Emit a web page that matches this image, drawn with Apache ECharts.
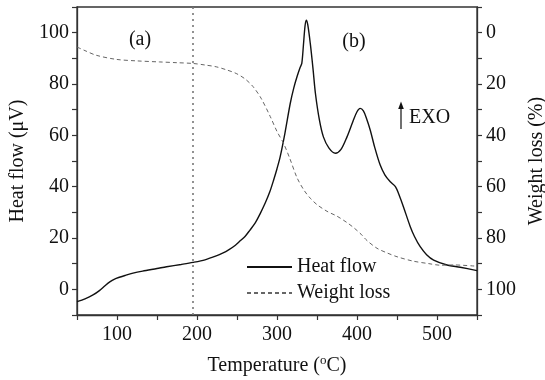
<!DOCTYPE html>
<html>
<head>
<meta charset="utf-8">
<script src="https://cdn.jsdelivr.net/npm/echarts@6/dist/echarts.min.js"></script>
<style>
html,body{margin:0;padding:0;background:#fff;}
#chart{width:545px;height:380px;}
</style>
</head>
<body>
<div id="chart"></div>
<script>
// Heat flow curve (Temperature °C, µV)
var heatT = [50,60,70,78,85,91,97,103,110,120,132,150,162,180,195,210,224,232,240,248,254,260,266,273,279,285.4,291,295.8,300,304,310,316.6,321,325,329,331,333,335,336.6,338.5,341.6,345,348,353,358,365,373,380,387.5,395,400,404,408,412,416.6,422,429,435,441.6,448,453,458,466.6,472,479,487,495.8,512.5,529,550];
var heatV = [-4.8,-3.7,-2.2,-0.5,1.4,2.9,4.0,4.7,5.4,6.3,7.1,8.1,8.8,9.7,10.5,11.5,13,14.1,15.5,17.2,18.9,20.6,23,26,29.5,33.7,38,42.6,47,51.7,61,72.5,78.5,82.8,86.5,88,95,102.5,104.9,103,95.8,86,76.4,66,59.4,55,53,54.5,59.4,65.5,69.2,70.5,69.5,66.5,62,55.5,48.4,44.5,41.9,40,36.5,32.2,24.4,20.5,16.6,13.5,11.4,9.5,8.6,7.3];
// Weight loss curve (Temperature °C, %)
var wlT = [50,60,74,99,125,153,175,195,210,224,237,249,260,270,280,291.6,300,308,316,325,334,341.6,350,362.5,375,387.5,396,405,412.5,425,437.5,450,470,490,504,521,550];
var wlV = [5.6,7.0,8.8,10.4,11.0,11.4,11.7,12,12.6,13.3,14.5,15.9,18.0,21,25.5,32.7,38.5,43,49,56.5,61.5,64.5,67,69.6,71.5,74,76,78.5,81,84,85.8,87.3,89,90,90.6,90.5,91];
var xTicks = [100,200,300,400,500];
var yTicks = [0,20,40,60,80,100];
var seriesNames = ['Heat flow','Weight loss'];
var dividerT = 195;

var FONT = 'Liberation Serif';
function zip(a,b){return a.map(function(v,i){return [v,b[i]];});}

var chart = echarts.init(document.getElementById('chart'));
var axisCommon = {
  axisLine:{show:true,onZero:false,lineStyle:{color:'#333',width:1.3}},
  axisTick:{show:true,inside:false,length:5,lineStyle:{color:'#333',width:1.2}},
  splitLine:{show:false},
  nameTextStyle:{fontFamily:FONT,fontSize:20,color:'#111'}
};
chart.setOption({
  animation:false,
  backgroundColor:'#fff',
  grid:{left:77,right:68,top:7,bottom:65,show:true,borderColor:'#333',borderWidth:1.3,backgroundColor:'transparent',
    containLabel:false,outerBoundsMode:'none'},
  legend:{
    orient:'vertical',left:241,top:252,itemWidth:45,itemHeight:12,itemGap:6,
    data:seriesNames,
    itemStyle:{opacity:0},
    textStyle:{fontFamily:FONT,fontSize:20,color:'#111'}
  },
  xAxis:Object.assign({},axisCommon,{
    type:'value',min:50,max:550,interval:50,
    name:'Temperature ({sup|o}C)',nameLocation:'middle',nameGap:39,
    nameTextStyle:{fontFamily:FONT,fontSize:20,color:'#111',rich:{sup:{fontFamily:FONT,fontSize:13,verticalAlign:'top',padding:[0,0,10,0],color:'#111'}}},
    axisLabel:{margin:10,fontFamily:FONT,fontSize:20,color:'#111',
      formatter:function(v){return xTicks.indexOf(v)>=0?String(v):'';}}
  }),
  yAxis:[
    Object.assign({},axisCommon,{
      type:'value',min:-10,max:110,interval:10,position:'left',
      name:'Heat flow (\u03BCV)',nameLocation:'middle',nameGap:41,nameRotate:90,
      axisLabel:{margin:8,fontFamily:FONT,fontSize:20,color:'#111',
        formatter:function(v){return yTicks.indexOf(v)>=0?String(v):'';}}
    }),
    Object.assign({},axisCommon,{
      type:'value',min:-10,max:110,interval:10,position:'right',inverse:true,
      name:'Weight loss (%)',nameLocation:'middle',nameGap:50,nameRotate:90,
      axisLabel:{margin:9,fontFamily:FONT,fontSize:20,color:'#111',
        formatter:function(v){return yTicks.indexOf(v)>=0?String(v):'';}}
    })
  ],
  series:[
    {name:seriesNames[0],type:'line',yAxisIndex:0,data:zip(heatT,heatV),smooth:0.3,symbol:'none',
      lineStyle:{color:'#111',width:1.4},itemStyle:{color:'#111'},
      markLine:{silent:true,symbol:'none',label:{show:false},
        lineStyle:{type:[2,4],color:'#777',width:1.6},data:[{xAxis:dividerT}]}},
    {name:seriesNames[1],type:'line',yAxisIndex:1,data:zip(wlT,wlV),smooth:0.3,symbol:'none',
      lineStyle:{color:'#666',width:1,type:[4,3]},itemStyle:{color:'#666'}}
  ],
  graphic:[
    {type:'text',x:140,y:40,style:{text:'(a)',font:'20px "Liberation Serif"',fill:'#111',align:'center',verticalAlign:'middle'}},
    {type:'text',x:354,y:42,style:{text:'(b)',font:'20px "Liberation Serif"',fill:'#111',align:'center',verticalAlign:'middle'}},
    {type:'text',x:409,y:118,style:{text:'EXO',font:'20px "Liberation Serif"',fill:'#111',align:'left',verticalAlign:'middle'}},
    {type:'line',shape:{x1:401,y1:129,x2:401,y2:107},style:{stroke:'#111',lineWidth:1.2}},
    {type:'polygon',shape:{points:[[398.2,109],[403.8,109],[401,101.5]]},style:{fill:'#111'}}
  ]
});
</script>
</body>
</html>
